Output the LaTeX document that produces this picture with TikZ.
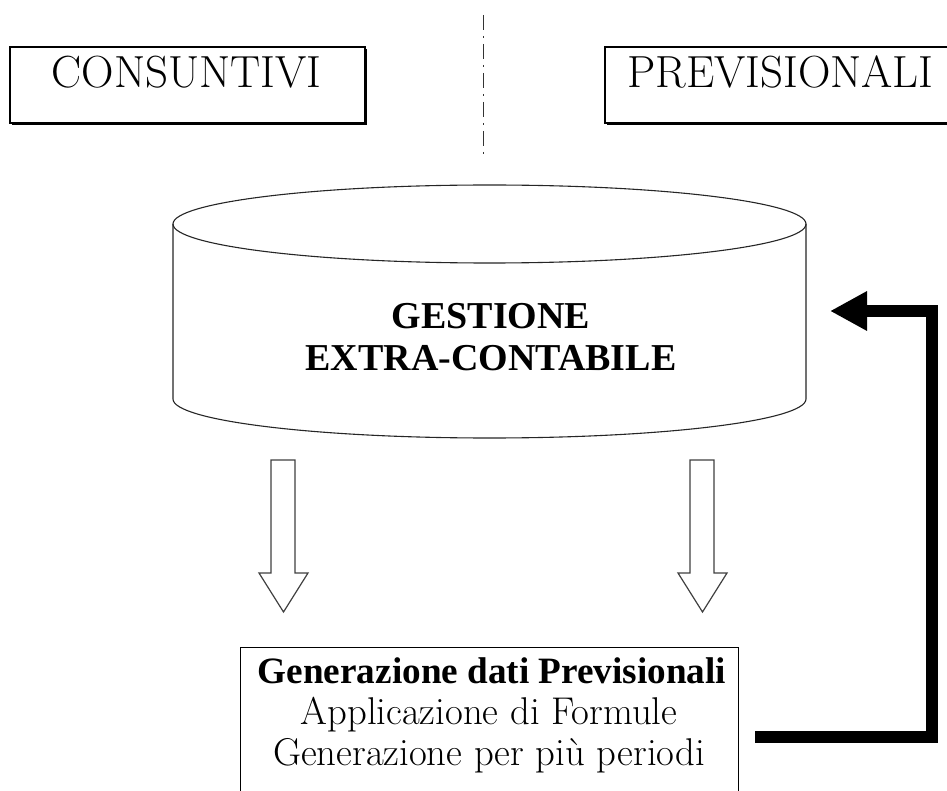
\documentclass[tikz,border=0pt]{standalone}
\usepackage{fontspec}
\newfontfamily\tnr{Liberation Serif}
\usetikzlibrary{arrows.meta,shadows}
\begin{document}
\begin{tikzpicture}[x=1pt,y=-1pt,
  tbox/.style={draw, line width=1.1pt, fill=white, minimum width=355pt, minimum height=76pt, inner sep=0pt,
    drop shadow={shadow xshift=2pt, shadow yshift=-2pt, fill=black, opacity=1}},
  bigtxt/.style={anchor=base, inner sep=0pt, font=\fontsize{45}{50}\selectfont},
  dbtxt/.style={anchor=base, inner sep=0pt, font=\tnr\bfseries\fontsize{38}{42}\selectfont},
  gtxt/.style={anchor=base, inner sep=0pt, font=\fontsize{38.7}{40}\selectfont},
  gbold/.style={anchor=base, inner sep=0pt, font=\tnr\bfseries\fontsize{37.2}{40}\selectfont},
  cyl/.style={draw=black!85, line width=1.1pt},
  blk/.style={draw=black!75, line width=1.2pt, fill=white, line join=miter},
  sep/.style={draw=black!80, line width=1pt, dash pattern=on 15pt off 6pt on 2pt off 6pt},
  fb/.style={line width=12pt, line join=miter, -{Triangle[length=37pt,width=37pt]}}
]
\useasboundingbox (0,0) rectangle (947,791);

% top boxes
\node[tbox] (cons) at (187.5,85) {};
\node[bigtxt] (consT) at (186.5,88) {CONSUNTIVI};
\node[tbox] (prev) at (782.5,85) {};
\node[bigtxt] (prevT) at (780.5,88) {PREVISIONALI};

% separator
\coordinate (sepA) at (483,15);
\coordinate (sepB) at (483,157);
\draw[sep] (sepA) -- (sepB);

% cylinder
\draw[cyl, fill=white] (173,224) -- (173,399)
  .. controls (173,420.5) and (314.7,438) .. (489.5,438)
  .. controls (664.3,438) and (806,420.5) .. (806,399) -- (806,224);
\draw[cyl] (489.5,224) ellipse[x radius=316.5, y radius=39];
\node[dbtxt] (db1) at (491,328) {GESTIONE};
\node[dbtxt] (db2) at (491,370) {EXTRA-CONTABILE};

% block arrows
\draw[blk] (271,460) -- (295,460) -- (295,573) -- (308,573) -- (283.5,612) -- (259,573) -- (271,573) -- cycle;
\draw[blk] (690,460) -- (714,460) -- (714,573) -- (727,573) -- (702.5,612) -- (678,573) -- (690,573) -- cycle;

% bottom box
\node[draw, line width=1.2pt, minimum width=498pt, minimum height=160pt, inner sep=0pt, anchor=north west] (gen) at (240,647) {};
\node[gbold] (gen1) at (492,683) {Generazione dati Previsionali};
\node[gtxt] (gen2) at (489,724) {Applicazione di Formule};
\node[gtxt] (gen3) at (489,765) {Generazione per più periodi};

% feedback arrow
\coordinate (fbs) at (755,736.5);
\coordinate (fbe) at (830,311);
\draw[fb] (fbs) -- (932,736.5) -- (932,311) -- (fbe);
\end{tikzpicture}
\end{document}
